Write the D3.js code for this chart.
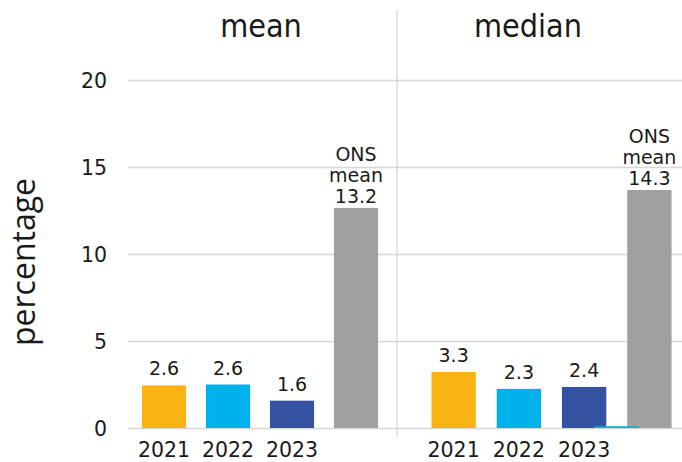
<!DOCTYPE html>
<html>
<head>
<meta charset="utf-8">
<script src="https://cdn.jsdelivr.net/npm/d3@7"></script>
<style>
  body { margin: 0; background: #fff; }
  svg text { font-family: "DejaVu Sans", sans-serif; fill: #1a1a1a; }
  svg text.title { font-family: "DejaVu Sans Condensed", "DejaVu Sans", sans-serif; font-stretch: condensed; }
</style>
</head>
<body>
<div id="chart"></div>
<script>
// chart data
var panels = ["mean", "median"];
var categories = ["2021", "2022", "2023", "ONS"];
var yearLabels = ["2021", "2022", "2023"];
var meanValues = [2.45, 2.5, 1.57, 12.65];
var medianValues = [3.22, 2.25, 2.36, 13.68];
var meanLabels = ["2.6", "2.6", "1.6", "13.2"];
var medianLabels = ["3.3", "2.3", "2.4", "14.3"];
var strayMedianValue = 0.1;   // thin cyan sliver next to the ONS bar
var yTicks = [0, 5, 10, 15, 20];
var colors = ["#f9b414", "#00b2eb", "#3452a0", "#a0a09e"];

var width = 682, height = 462;
var svg = d3.select("#chart").append("svg")
    .attr("width", width)
    .attr("height", height);

var y = d3.scaleLinear().domain([0, 20]).range([428, 80]);

// panel x scales
var xMean = d3.scaleBand().domain(categories).range([132, 388]).paddingInner(0.31).paddingOuter(0.155);
var xMedian = d3.scaleBand().domain(categories).range([421, 682]).paddingInner(0.32).paddingOuter(0.16);

var panelData = [
  {name: panels[0], x: xMean, values: meanValues, labels: meanLabels, titleX: 261},
  {name: panels[1], x: xMedian, values: medianValues, labels: medianLabels, titleX: 528}
];

// grid
svg.selectAll("line.grid")
    .data(yTicks)
    .enter()
    .append("line")
    .attr("class", "grid")
    .attr("x1", 128)
    .attr("x2", 682)
    .attr("y1", function(d){ return Math.round(y(d)) + 0.5; })
    .attr("y2", function(d){ return Math.round(y(d)) + 0.5; })
    .attr("stroke", "#d6d6d6")
    .attr("stroke-width", 1.3);

svg.append("line")
    .attr("x1", 397).attr("x2", 397)
    .attr("y1", 10).attr("y2", 437)
    .attr("stroke", "#d6d6d6")
    .attr("stroke-width", 1.3);

// y tick labels
svg.selectAll("text.ytick")
    .data(yTicks)
    .enter()
    .append("text")
    .attr("class", "ytick")
    .attr("x", 107)
    .attr("y", function(d){ return y(d) + 7.5; })
    .attr("text-anchor", "end")
    .style("font-size", "20.5px")
    .text(function(d){ return d; });

svg.append("text")
    .attr("transform", "translate(35,262) rotate(-90)")
    .attr("text-anchor", "middle")
    .style("font-family", "'Open Sans', sans-serif")
    .style("font-size", "32px")
    .text("percentage");

panelData.forEach(function(p){
  var g = svg.append("g");

  g.append("text")
      .attr("class", "title")
      .attr("x", p.titleX)
      .attr("y", 37)
      .attr("text-anchor", "middle")
      .style("font-size", "32px")
      .text(p.name);

  g.selectAll("rect")
      .data(p.values)
      .enter()
      .append("rect")
      .attr("x", function(d, i){ return p.x(categories[i]); })
      .attr("y", function(d){ return y(d); })
      .attr("width", p.x.bandwidth())
      .attr("height", function(d){ return y(0) - y(d); })
      .attr("fill", function(d, i){ return colors[i]; });

  // value labels on the year bars
  g.selectAll("text.val")
      .data(p.labels.slice(0, 3))
      .enter()
      .append("text")
      .attr("class", "val")
      .attr("x", function(d, i){ return p.x(categories[i]) + p.x.bandwidth() / 2; })
      .attr("y", function(d, i){ return y(p.values[i]) - 10; })
      .attr("text-anchor", "middle")
      .style("font-size", "19px")
      .text(function(d){ return d; });

  // ONS label, three lines
  var ons = g.append("text")
      .attr("text-anchor", "middle")
      .style("font-size", "19px");
  var onsX = p.x("ONS") + p.x.bandwidth() / 2;
  ["ONS", "mean", p.labels[3]].forEach(function(t, i){
    ons.append("tspan")
        .attr("x", onsX)
        .attr("y", y(p.values[3]) - 5 - (2 - i) * 21)
        .text(t);
  });

  // year labels
  g.selectAll("text.year")
      .data(yearLabels)
      .enter()
      .append("text")
      .attr("class", "year")
      .attr("x", function(d){ return p.x(d) + p.x.bandwidth() / 2; })
      .attr("y", 457)
      .attr("text-anchor", "middle")
      .style("font-size", "20.5px")
      .text(function(d){ return d; });
});

// thin cyan sliver in the median panel
svg.append("rect")
    .attr("x", xMedian("2023") + xMedian.step() / 2)
    .attr("y", y(strayMedianValue))
    .attr("width", xMedian.bandwidth())
    .attr("height", y(0) - y(strayMedianValue))
    .attr("fill", colors[1]);
</script>
</body>
</html>
